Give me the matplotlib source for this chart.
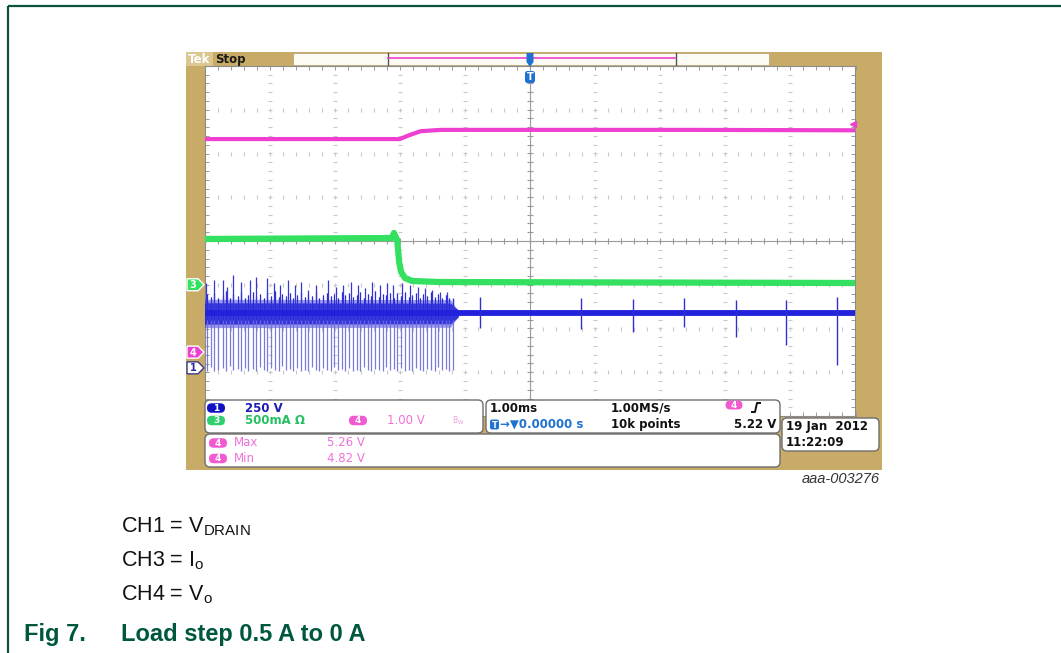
import matplotlib
matplotlib.use('Agg')
import matplotlib.pyplot as plt
from matplotlib.patches import Rectangle, FancyBboxPatch, Polygon
from matplotlib.ticker import MultipleLocator
import numpy as np

plt.rcParams['mathtext.fontset'] = 'custom'
plt.rcParams['mathtext.rm'] = 'Liberation Sans'
plt.rcParams['mathtext.default'] = 'regular'

W, H, DPI = 1061, 653, 100

# ------------------------------------------------------------------ data
# time axis: 1.00 ms/div, trigger at centre -> -5 .. +5 ms
# CH4 = Vo (1.00 V/div)
ch4_t = [-5.0, -2.00, -1.87, -1.68, -1.37, 0.0, 2.5, 5.0]
ch4_v = [4.87, 4.87, 4.95, 5.05, 5.08, 5.08, 5.08, 5.07]
ch4_trig_level = 5.22
# CH3 = Io (500 mA/div)
ch3_t = [-5.0, -2.12, -2.09, -2.04, -2.01, -1.98, -1.92, -1.81, -1.38, 5.0]
ch3_i = [0.523, 0.534, 0.591, 0.511, 0.26, 0.146, 0.077, 0.043, 0.031, 0.02]
# CH1 = Vdrain (250 V/div)
ch1_t = [-5.0, -1.15, 5.0]
ch1_v = [312, 312, 312]
burst_t = [-5.0, -1.22, -1.15, -1.10]
burst_hi = [372, 370, 345, 330]
burst_lo = [250, 252, 275, 292]
burst_hi_outer = [392, 390, 350, 330]
burst_lo_outer = [230, 232, 270, 292]
up_t = [-4.97, -4.86, -4.72, -4.65, -4.56, -4.44, -4.30, -4.21, -4.04, -3.94,
        -3.84, -3.71, -3.61, -3.51, -3.41, -3.28, -3.10, -2.98, -2.87, -2.75,
        -2.64, -2.53, -2.42, -2.30, -2.20, -2.10, -1.96, -1.84, -1.72, -1.61,
        -1.51, -1.38, -1.28, -1.18]
up_v = [483, 502, 502, 464, 531, 492, 502, 521, 512, 483,
        474, 502, 474, 492, 445, 474, 502, 464, 474, 492,
        474, 455, 492, 474, 483, 474, 483, 474, 464, 455,
        445, 435, 435, 398]
down_t = [-4.96, -4.90, -4.85, -4.79, -4.72, -4.67, -4.61, -4.56, -4.49, -4.44,
          -4.38, -4.33, -4.26, -4.21, -4.15, -4.09, -4.04, -3.98, -3.92, -3.86,
          -3.81, -3.75, -3.69, -3.64, -3.58, -3.52, -3.46, -3.41, -3.35, -3.29,
          -3.24, -3.18, -3.12, -3.06, -3.01, -2.95, -2.89, -2.84, -2.78, -2.72,
          -2.66, -2.61, -2.55, -2.49, -2.44, -2.38, -2.32, -2.26, -2.21, -2.15,
          -2.09, -2.04, -1.98, -1.92, -1.86, -1.81, -1.75, -1.69, -1.64, -1.58,
          -1.52, -1.46, -1.41, -1.35, -1.29, -1.24, -1.19]
down_v = [-15, 5, -20, -10, 0, -18, 10, -12, -5, -20,
          2, -15, -8, -20, 5, -12, -18, 0, -10, -20,
          8, -14, -6, -20, 0, -16, -10, -20, 4, -12,
          -18, -2, -10, -20, 6, -14, -8, -20, 0, -15,
          -10, -20, 3, -12, -18, -4, -10, -20, 5, -14,
          -8, -20, 0, -16, -10, -20, 2, -12, -18, -5,
          -10, -20, 4, -14, -8, -20, -12]
ring_v = [420, 405, 430, 400, 415, 440, 398, 425, 410, 432,
          402, 418, 436, 408, 422, 400, 428, 412, 438, 404,
          420, 410, 430, 398, 416, 434, 406, 424, 412, 440,
          400, 418, 428, 408, 422, 402, 436, 414, 426, 404,
          418, 432, 400, 424, 410, 438, 406, 420, 414, 430,
          402, 426, 410, 436, 404, 418, 428, 400, 422, 412,
          432, 406, 420, 398, 414, 402, 395]
post_t = [-0.77, 0.79, 1.58, 2.37, 3.16, 3.94, 4.72]
post_hi = [403, 398, 394, 398, 386, 388, 407]
post_lo = [226, 224, 205, 235, 178, 131, 16]

# channel settings: (units per div, ground marker position in div)
ch1_scale, ch1_pos = 250.0, -2.9
ch3_scale, ch3_pos = 0.5, -1.0
ch4_scale, ch4_pos = 1.0, -2.54

# readouts
ch1_label = '250 V'
ch3_label = '500mA Ω'
ch4_label = '1.00 V'
meas_names = ['Max', 'Min']
meas_vals = ['5.26 V', '4.82 V']
timebase = '1.00ms'
trig_pos = '→▼0.00000 s'
rate = '1.00MS/s'
points = '10k points'
trig_level_txt = '5.22 V'
date_txt = '19 Jan  2012'
time_txt = '11:22:09'

# ------------------------------------------------------------------ style
TAN = '#c9ab68'
FRAME = '#0d5240'
CAPGREEN = '#00573f'
BLUE = '#2222dd'
SPIKE = '#6c6cd6'
GREEN = '#33e060'
PINK = '#ee3fd0'
TBLUE = '#1f72d2'

fig = plt.figure(figsize=(W / DPI, H / DPI), dpi=DPI)
fig.patch.set_facecolor('white')

bg = fig.add_axes([0, 0, 1, 1], zorder=0)
bg.set_xlim(0, W); bg.set_ylim(H, 0); bg.axis('off')
bg.patch.set_visible(False)

# outer figure frame
bg.plot([8, 8], [6, H + 2], color=FRAME, lw=1.6, solid_capstyle='butt')
bg.plot([8, W + 2], [6, 6], color=FRAME, lw=1.6, solid_capstyle='butt')

# scope bezel
bg.add_patch(Rectangle((186, 52), 696, 418, fc=TAN, ec='none'))
bg.add_patch(Rectangle((186, 52), 27, 14, fc='#dcc792', ec='none'))
bg.text(188, 59.5, 'Tek', color='white', fontsize=8.5, fontweight='bold', va='center',
        family='DejaVu Sans')
bg.text(215, 59, 'Stop', color='#1a1a1a', fontsize=8.5, fontweight='bold', va='center',
        family='DejaVu Sans')
bg.add_patch(Rectangle((293, 53), 476, 11.5, fc='#fcfaf2', ec='#b9a779', lw=0.6))
bg.plot([387.5, 387.5], [53, 65], color='#555555', lw=1.0)
bg.plot([675.5, 675.5], [53, 65], color='#555555', lw=1.0)
bg.plot([388, 675], [57.5, 57.5], color=PINK, lw=1.2)

# caption
bg.text(121, 532, 'CH1 = V$_{DRAIN}$', fontsize=15.5, family='Liberation Sans',
        va='baseline', color='#111111')
bg.text(121, 566, 'CH3 = I$_{o}$', fontsize=15.5, family='Liberation Sans',
        va='baseline', color='#111111')
bg.text(121, 600, 'CH4 = V$_{o}$', fontsize=15.5, family='Liberation Sans',
        va='baseline', color='#111111')
bg.text(24, 641, 'Fig 7.', fontsize=17, fontweight='bold', family='Liberation Sans',
        va='baseline', color=CAPGREEN)
bg.text(121, 641, 'Load step 0.5 A to 0 A', fontsize=17, fontweight='bold',
        family='Liberation Sans', va='baseline', color=CAPGREEN)
bg.text(880, 483, 'aaa-003276', fontsize=10.5, style='italic', family='Liberation Sans',
        ha='right', va='baseline', color='#333333')

# ------------------------------------------------------------------ graticule
rect = [204.5 / W, (H - 416) / H, 651 / W, 350 / H]
ax = fig.add_axes(rect, zorder=1)
ax.set_xlim(-5, 5); ax.set_ylim(-4, 4)
ax.set_facecolor('white')
for s in ax.spines.values():
    s.set_color('#8c8c8c'); s.set_linewidth(0.8)
ax.set_xticks([]); ax.set_yticks([])
ax.xaxis.set_minor_locator(MultipleLocator(0.2))
ax.yaxis.set_minor_locator(MultipleLocator(0.2))
ax.tick_params(which='minor', direction='in', length=3, color='#9a9a9a', width=0.7,
               top=True, right=True)
xs = np.arange(-5, 5.001, 0.2)
ys = np.arange(-4, 4.001, 0.2)
for xv in range(-4, 5):
    if xv != 0:
        ax.plot([xv] * len(ys), ys, ls='none', marker='_', ms=2.5, mew=0.8, color='#c8c8c8')
for yv in range(-3, 4):
    if yv != 0:
        ax.plot(xs, [yv] * len(xs), ls='none', marker='|', ms=2.5, mew=0.8, color='#c8c8c8')
ax.axhline(0, color='#9a9a9a', lw=0.8)
ax.axvline(0, color='#9a9a9a', lw=0.8)
ax.plot(xs, [0] * len(xs), ls='none', marker='|', ms=4.5, mew=0.8, color='#9a9a9a')
ax.plot([0] * len(ys), ys, ls='none', marker='_', ms=4.5, mew=0.8, color='#9a9a9a')


def chan_axes(scale, pos, z):
    a = fig.add_axes(rect, zorder=z, sharex=ax, label='ch%d' % z)
    a.set_ylim((-4 - pos) * scale, (4 - pos) * scale)
    a.patch.set_visible(False)
    a.axis('off')
    return a


a1 = chan_axes(ch1_scale, ch1_pos, 2)
a3 = chan_axes(ch3_scale, ch3_pos, 3)
a4 = chan_axes(ch4_scale, ch4_pos, 4)

# CH1 drain voltage
a1.vlines(down_t, down_v, ring_v, color=SPIKE, lw=0.9, alpha=0.9)
a1.fill_between(burst_t, burst_lo_outer, burst_hi_outer, color=BLUE, lw=0, alpha=0.45)
a1.fill_between(burst_t, burst_lo, burst_hi, color=BLUE, lw=0, alpha=0.85)
a1.vlines(down_t, [ch1_v[0] - 40] * len(down_t), ring_v, color='#2a2ad8', lw=0.8)
a1.vlines(up_t, [ch1_v[0]] * len(up_t), up_v, color='#3535d8', lw=0.9)
a1.plot(ch1_t, ch1_v, color=BLUE, lw=4.2, solid_capstyle='butt')
a1.vlines(post_t, post_lo, post_hi, color='#3030d0', lw=1.0)

# CH3 output current
a3.plot(ch3_t, ch3_i, color=GREEN, lw=4.5, solid_joinstyle='round')

# CH4 output voltage
a4.plot(ch4_t, ch4_v, color=PINK, lw=3.0, solid_joinstyle='round')
a4.plot([4.96], [ch4_trig_level], marker='<', ms=5, color=PINK, clip_on=False)

# ------------------------------------------------------------------ overlay
ov = fig.add_axes([0, 0, 1, 1], zorder=10)
ov.set_xlim(0, W); ov.set_ylim(H, 0); ov.axis('off')
ov.patch.set_visible(False)

inv = ov.transData.inverted()


def ground_marker(a, label, fc, ec, tc):
    y = inv.transform(a.transData.transform((0, 0)))[1]
    ov.add_patch(Polygon([(187, y - 6), (198, y - 6), (204, y), (198, y + 6), (187, y + 6)],
                         closed=True, fc=fc, ec=ec, lw=1.0))
    ov.text(193, y + 0.5, label, color=tc, fontsize=7, fontweight='bold',
            ha='center', va='center', family='DejaVu Sans')


ground_marker(a3, '3', GREEN, 'white', 'white')
ground_marker(a4, '4', PINK, 'white', 'white')
ground_marker(a1, '1', 'white', '#3a3a8a', '#2a2a9a')

# trigger position marker
ov.add_patch(Polygon([(526.5, 53), (533.5, 53), (533.5, 62), (530, 67), (526.5, 62)],
                     closed=True, fc=TBLUE, ec='none'))
ov.add_patch(FancyBboxPatch((525, 71), 10, 12, boxstyle='round,pad=0,rounding_size=2.5',
                            fc=TBLUE, ec='none'))
ov.text(530, 77.5, 'T', color='white', fontsize=7, fontweight='bold', ha='center',
        va='center', family='DejaVu Sans')


def box(x0, y0, x1, y1):
    ov.add_patch(FancyBboxPatch((x0, y0), x1 - x0, y1 - y0,
                                boxstyle='round,pad=0,rounding_size=5',
                                fc='white', ec='#6e6e6e', lw=1.0))


def badge(x, y, label, color, w=18, h=9.5):
    ov.add_patch(FancyBboxPatch((x - w / 2, y - h / 2), w, h,
                                boxstyle='round,pad=0,rounding_size=4.7',
                                fc=color, ec='none'))
    ov.text(x, y + 0.3, label, color='white', fontsize=6.5, fontweight='bold',
            ha='center', va='center', family='DejaVu Sans')


def txt(x, y, s, color='#111111', ha='left', size=8.5, bold=True):
    ov.text(x, y, s, color=color, fontsize=size, fontweight='bold' if bold else 'normal',
            ha=ha, va='center', family='DejaVu Sans')


box(205, 400, 483, 433)
box(486, 400, 780, 433)
box(205, 434, 780, 467)
box(782, 418, 879, 451)

badge(216, 408, '1', '#1212c0')
txt(245, 408, ch1_label, '#1c1cb0')
badge(216, 420.5, '3', '#30d070')
txt(245, 420.5, ch3_label, '#22c060')
badge(358, 420.5, '4', '#f25ad2')
txt(387, 420.5, ch4_label, '#f070d8', bold=False)
txt(452, 420.5, 'B$_W$', '#e8a0dc', size=5.5, bold=False)

badge(218, 443, '4', '#f25ad2')
txt(234, 443, meas_names[0], '#f070d8', bold=False)
txt(327, 443, meas_vals[0], '#f070d8', bold=False)
badge(218, 458.5, '4', '#f25ad2')
txt(234, 458.5, meas_names[1], '#f070d8', bold=False)
txt(327, 458.5, meas_vals[1], '#f070d8', bold=False)

txt(490, 408, timebase)
ov.add_patch(FancyBboxPatch((490, 419.5), 9, 10, boxstyle='round,pad=0,rounding_size=2',
                            fc=TBLUE, ec='none'))
ov.text(494.5, 425, 'T', color='white', fontsize=6, fontweight='bold', ha='center',
        va='center', family='DejaVu Sans')
txt(500, 424.5, trig_pos, TBLUE)
txt(611, 408, rate)
txt(611, 424.5, points)
badge(734, 405, '4', '#f25ad2', w=17, h=9)
ov.plot([752, 755, 757, 760], [412, 412, 403, 403], color='#111111', lw=1.4)
txt(776, 424.5, trig_level_txt, ha='right')

txt(786, 426.5, date_txt)
txt(786, 442.5, time_txt)

fig.savefig('out.png', dpi=DPI, facecolor='white')
